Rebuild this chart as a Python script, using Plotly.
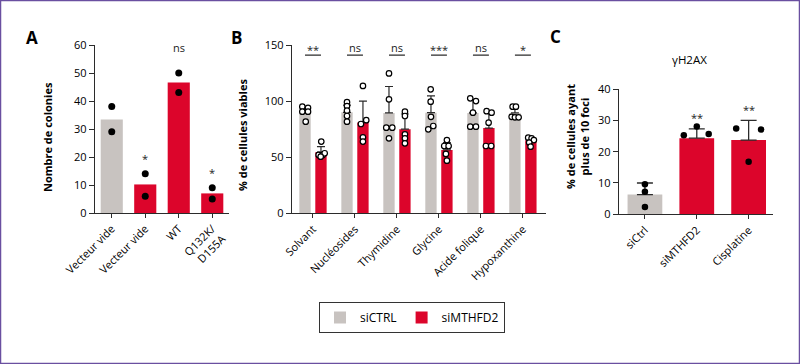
import plotly.graph_objects as go

# ---------------- data ----------------
A_labels = ["Vecteur vide", "Vecteur vide", "WT", "Q132K/<br>D155A"]
A_values = [33.4, 10.2, 46.6, 7.0]
A_points = [[38, 29], [14, 6], [50, 43], [9, 5]]
A_signif = ["", "*", "ns", "*"]
A_signif_y = [0, 19.5, 59, 14.5]
A_is_ctrl = [True, False, False, False]

B_labels = ["Solvant", "Nucléosides", "Thymidine", "Glycine", "Acide folique", "Hypoxanthine"]
B_ctrl_mean = [89, 90, 89.5, 89.7, 89.5, 89.5]
B_ctrl_sd = [5, 6.5, 23.5, 15, 11.5, 5.5]
B_mthfd2_mean = [54.5, 81, 75, 56.5, 76, 65]
B_mthfd2_sd = [5, 19, 13.5, 6.5, 15, 2.5]
B_ctrl_points = [
    [95, 94, 90.6, 90.6, 81.7],
    [99, 95.6, 91.5, 86.7, 81.7],
    [124.7, 101.6, 76.3, 76.3, 66.8],
    [110.5, 99.5, 86, 74.8, 77.8],
    [102.5, 100, 89.7, 77.2, 77.2],
    [95, 95, 86, 85.5, 85.5],
]
B_mthfd2_points = [
    [63.9, 52, 52, 53.5, 50.5],
    [113.5, 83, 79.6, 67.7, 63.9],
    [90.6, 86.7, 70.4, 66.8, 62.4],
    [65.3, 60, 60, 52.9, 46.9],
    [91, 89.7, 80.8, 60, 60],
    [67.4, 66.8, 65.3, 63, 59.4],
]
B_signif = ["**", "ns", "ns", "***", "ns", "*"]

C_labels = ["siCtrl", "siMTHFD2", "Cisplatine"]
C_values = [6.3, 24.3, 23.7]
C_sd = [3.7, 3.0, 6.3]
C_points = [[9.6, 7.2, 2.3], [25.2, 28, 25.6], [27.4, 16.8, 27.1]]
C_signif = ["", "**", "**"]
C_is_ctrl = [True, False, False]

# ---------------- style ----------------
GREY = "#c8c3c0"
RED = "#dc052b"
AX = "#2b2b2b"
FONT = "Open Sans"

# jitter (in pixels) for the dots, style only
B_ctrl_jit = [[-2.7, 3, -2.7, 3, 0.7], [0, 0, 0, 0, 0], [0, 0, -2.7, 3.3, 0],
              [-0.3, -0.3, 0, -2.7, 2.3], [-2.7, 3, 0, -2.7, 3], [-2.3, 1, -3.3, 0, 3.7]]
B_red_jit = [[0.3, -2.3, 1.7, 3.7, -0.3], [0, 3.3, -2, 0, 0], [0, 0, 0, 0, 0],
             [0, -2.7, 1.7, -1, 0], [-2.3, 2.7, -0.3, -3, 2.3], [-2.7, 0.7, 3, -1.7, -0.3]]
C_jit = [[0, 0, 0], [-0.25, 0, 0.23], [-0.24, 0, 0.24]]
B_OFF = 0.19
B_W = 0.27
PX_PER_CAT_B = 42.0

fig = go.Figure()

# ---------- Panel A ----------
xa = list(range(len(A_values)))
fig.add_trace(go.Bar(x=xa, y=A_values, width=0.66,
                     marker=dict(color=[GREY if c else RED for c in A_is_ctrl], line_width=0),
                     showlegend=False, xaxis="x", yaxis="y"))
px_, py_ = [], []
for i, pts in enumerate(A_points):
    for v in pts:
        px_.append(i)
        py_.append(v)
fig.add_trace(go.Scatter(x=px_, y=py_, mode="markers",
                         marker=dict(color="black", size=7), showlegend=False,
                         xaxis="x", yaxis="y"))
for i, s in enumerate(A_signif):
    if s:
        fig.add_annotation(x=i, y=A_signif_y[i], xref="x", yref="y", text=s,
                           showarrow=False, font=dict(size=11, color="#222", family=FONT))

# ---------- Panel B ----------
xb = list(range(len(B_labels)))
fig.add_trace(go.Bar(x=[i - B_OFF for i in xb], y=B_ctrl_mean, width=B_W, name="siCTRL",
                     marker=dict(color=GREY, line_width=0),
                     error_y=dict(type="data", symmetric=False, array=B_ctrl_sd,
                                  arrayminus=[0] * 6, color=AX, thickness=1.2, width=4),
                     xaxis="x2", yaxis="y2"))
fig.add_trace(go.Bar(x=[i + B_OFF for i in xb], y=B_mthfd2_mean, width=B_W, name="siMTHFD2",
                     marker=dict(color=RED, line_width=0),
                     error_y=dict(type="data", symmetric=False, array=B_mthfd2_sd,
                                  arrayminus=[0] * 6, color=AX, thickness=1.2, width=4),
                     xaxis="x2", yaxis="y2"))
for pts_all, jit_all, sign in ((B_ctrl_points, B_ctrl_jit, -1), (B_mthfd2_points, B_red_jit, 1)):
    sx, sy = [], []
    for i, pts in enumerate(pts_all):
        for k, v in enumerate(pts):
            sx.append(i + sign * B_OFF + jit_all[i][k] / PX_PER_CAT_B)
            sy.append(v)
    fig.add_trace(go.Scatter(x=sx, y=sy, mode="markers",
                             marker=dict(color="white", size=5.5, line=dict(color="black", width=1.2)),
                             showlegend=False, xaxis="x2", yaxis="y2"))
for i, s in enumerate(B_signif):
    fig.add_shape(type="line", xref="x2", yref="y2", x0=i - B_OFF, x1=i + B_OFF,
                  y0=141, y1=141, line=dict(color=AX, width=1.2))
    fig.add_annotation(x=i, y=146 if s != "ns" else 148, xref="x2", yref="y2", text=s,
                       showarrow=False, font=dict(size=11, color="#222", family=FONT))

# ---------- Panel C ----------
xc = list(range(len(C_values)))
fig.add_trace(go.Bar(x=xc, y=C_values, width=0.67,
                     marker=dict(color=[GREY if c else RED for c in C_is_ctrl], line_width=0),
                     error_y=dict(type="data", symmetric=False, array=C_sd,
                                  arrayminus=[0] * 3, color=AX, thickness=1.3, width=8),
                     showlegend=False, xaxis="x3", yaxis="y3"))
cx, cy = [], []
for i, pts in enumerate(C_points):
    for k, v in enumerate(pts):
        cx.append(i + C_jit[i][k])
        cy.append(v)
fig.add_trace(go.Scatter(x=cx, y=cy, mode="markers",
                         marker=dict(color="black", size=6.5), showlegend=False,
                         xaxis="x3", yaxis="y3"))
for i, s in enumerate(C_signif):
    if s:
        fig.add_annotation(x=i, y=C_values[i] + C_sd[i] + 3.5, xref="x3", yref="y3", text=s,
                           showarrow=False, font=dict(size=11, color="#222", family=FONT))

# ---------- axes ----------
def yax(domain, rng, dtick, anchor):
    return dict(domain=domain, range=rng, dtick=dtick, anchor=anchor, showline=True,
                linecolor=AX, linewidth=1.3, ticks="outside", ticklen=5, tickwidth=1.3,
                tickcolor=AX, showgrid=False, zeroline=False, automargin=False,
                tickfont=dict(size=11, color="black", family=FONT))

def xax(domain, rng, labels, anchor):
    return dict(domain=domain, range=rng, anchor=anchor, showline=True, linecolor=AX,
                linewidth=1.3, ticks="outside", ticklen=4, tickwidth=1.3, tickcolor=AX,
                tickvals=list(range(len(labels))), ticktext=labels, tickangle=-45,
                showgrid=False, zeroline=False, automargin=False,
                tickfont=dict(size=11, color="black", family=FONT))

W, H = 800, 364
fig.update_layout(
    template="none",
    width=W, height=H, autosize=False,
    margin=dict(l=0, r=0, t=0, b=0, pad=0, autoexpand=False),
    paper_bgcolor="white", plot_bgcolor="white",
    font=dict(family=FONT, color="black"),
    barmode="overlay",
    xaxis=xax([95 / W, 229 / W], [-0.5, 3.5], A_labels, "y"),
    yaxis=yax([1 - 213 / H, 1 - 45 / H], [0, 60], 10, "x"),
    xaxis2=xax([292 / W, 546 / W], [-0.5, 5.55], B_labels, "y2"),
    yaxis2=yax([1 - 213.3 / H, 1 - 45 / H], [0, 150], 50, "x2"),
    xaxis3=xax([619 / W, 773 / W], [-0.5, 2.47], C_labels, "y3"),
    yaxis3=yax([1 - 214.3 / H, 1 - 89 / H], [0, 40], 10, "x3"),
    legend=dict(orientation="h", x=412 / W, y=1 - 302 / H, xanchor="center", yanchor="top",
                bordercolor="#333", borderwidth=1, font=dict(size=12, family=FONT, color="black"),
                itemwidth=30, entrywidthmode="pixels", bgcolor="white"),
)

# panel letters, axis titles, subtitle
def ann(x, y, text, size, bold=False, angle=0):
    fig.add_annotation(x=x / W, y=1 - y / H, xref="paper", yref="paper", showarrow=False,
                       text=f"<b>{text}</b>" if bold else text, textangle=angle,
                       font=dict(size=size, color="black", family=FONT),
                       xanchor="center", yanchor="middle")

ann(32, 38, "A", 17, True)
ann(236, 38, "B", 17, True)
ann(555, 37, "C", 17, True)
ann(47, 137, "Nombre de colonies", 11, True, -90)
ann(242, 135, "% de cellules viables", 11, True, -90)
ann(577, 137, "% de cellules ayant<br>plus de 10 foci", 11, True, -90)
ann(689, 60, "γH2AX", 11.5)

# outer frame
fig.add_shape(type="rect", xref="paper", yref="paper", x0=0, y0=0, x1=1, y1=1,
              line=dict(color="#6a4fa0", width=2.5))

fig.write_html("out.html", config={"displayModeBar": False},
               post_script="document.body.style.margin='0';document.body.style.padding='0';"
                           "document.body.style.overflow='hidden';")
